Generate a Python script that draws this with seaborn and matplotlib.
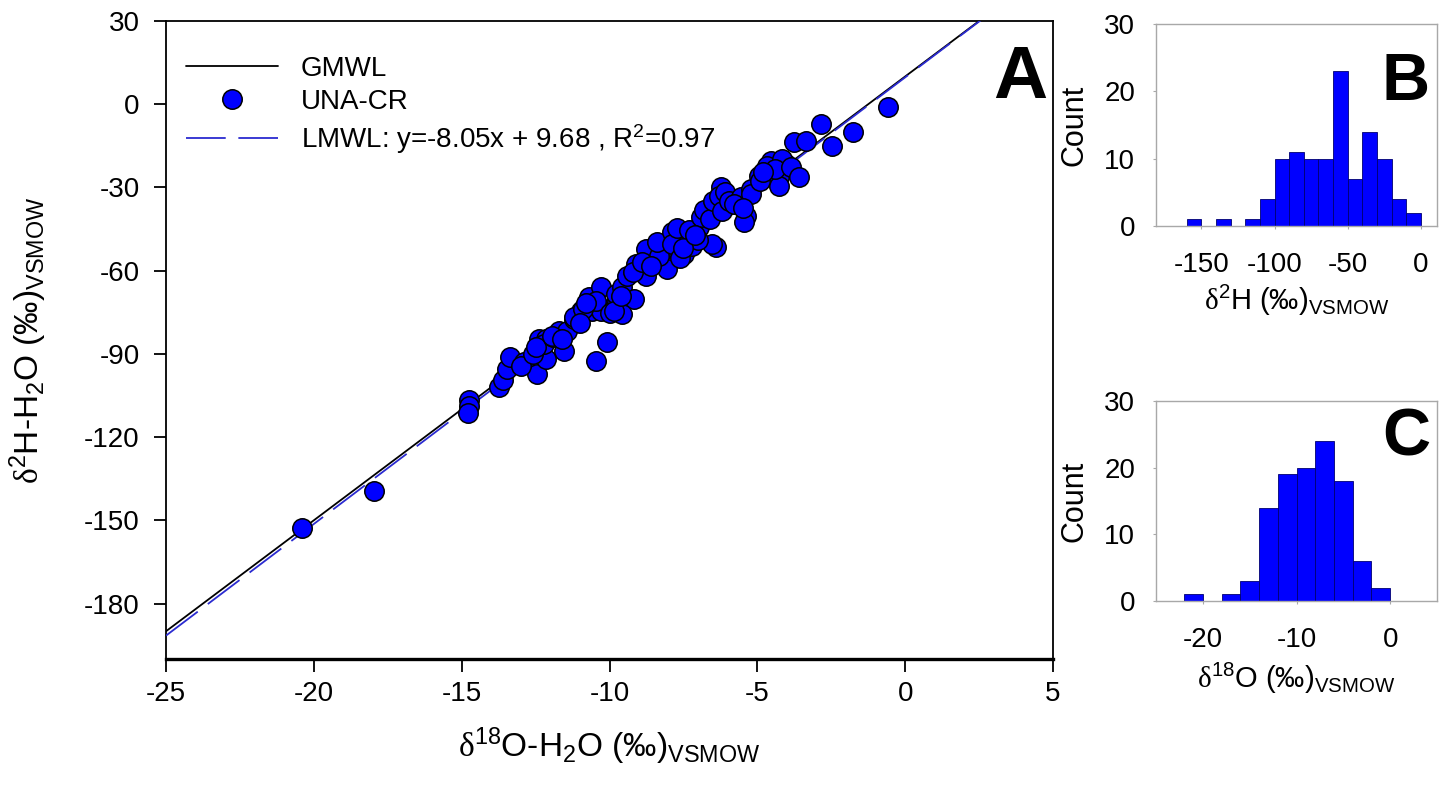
import numpy as np
import pandas as pd
import matplotlib
matplotlib.use('Agg')
import matplotlib.pyplot as plt
import seaborn as sns
from matplotlib.lines import Line2D

# d18O / d2H of the UNA-CR samples (permil, VSMOW)
d18O = [-20.4, -17.95, -14.74, -14.74, -14.8,
        -13.73, -13.6, -13.46, -13.36, -12.88, -12.44, -12.38, -12.15, -12.38, -12.15, -13.0, -12.6, -12.2, -12.5,
        -11.9, -11.7, -11.53, -11.45, -11.2, -10.95, -10.6, -10.45, -10.08, -10.3, -11.2, -10.69, -10.29, -10.45,
        -10.9, -11.95, -11.0, -10.8, -11.6,
        -9.98, -9.75, -9.78, -9.58, -9.17, -9.58, -9.85, -9.1, -8.77, -8.56, -8.23, -8.06, -8.77, -8.33, -9.4,
        -9.2, -8.9, -8.6, -8.4, -9.6,
        -7.89, -7.48, -7.42, -6.98, -6.64, -6.07, -6.4, -6.54, -6.24, -7.9, -7.7, -7.6, -7.3, -7.2, -7.0, -6.9,
        -6.8, -6.6, -6.5, -6.3, -6.2, -6.1, -7.5, -7.1,
        -5.97, -5.56, -5.39, -5.46, -5.22, -4.95, -4.55, -4.28, -4.28, -4.04, -4.68, -4.17, -5.22, -4.9, -5.8,
        -5.5, -4.4, -4.8,
        -3.85, -3.6, -3.77, -3.37, -2.49, -2.83,
        -1.75, -0.57]
d2H = [-152.6, -139.3, -106.5, -108.8, -111.2,
       -101.8, -99.5, -95.4, -91.0, -92.8, -97.2, -89.2, -92.0, -84.6, -84.6, -94.5, -90.0, -86.5, -87.5,
       -84.0, -81.7, -88.9, -81.7, -77.3, -74.4, -74.7, -92.5, -85.6, -74.7, -76.6, -69.4, -65.8, -71.0,
       -73.8, -83.5, -79.0, -71.5, -84.5,
       -75.4, -71.3, -68.3, -65.8, -70.1, -75.5, -74.4, -57.5, -61.9, -55.0, -52.9, -59.3, -52.1, -54.6, -62.0,
       -60.5, -57.0, -58.5, -49.5, -69.0,
       -46.0, -53.9, -48.5, -44.2, -37.7, -36.6, -51.4, -50.3, -29.8, -50.5, -44.5, -55.5, -45.5, -51.0, -49.0,
       -40.5, -38.0, -41.5, -35.0, -33.0, -38.5, -31.5, -52.0, -47.0,
       -34.8, -33.4, -40.2, -42.4, -30.5, -25.8, -20.4, -26.2, -29.4, -21.5, -22.2, -19.7, -32.2, -27.5, -36.0,
       -37.5, -23.5, -24.5,
       -22.5, -26.2, -13.6, -13.2, -15.0, -7.1,
       -10.0, -1.0]

# water lines
gmwl_slope, gmwl_icpt = 8.0, 10.0
lmwl_slope, lmwl_icpt = 8.05, 9.68
line_x = np.array([-25.0, 5.0])

# histogram B (d2H, 10 permil bins from -160 to 0)
h_bin_mid = [-155, -145, -135, -125, -115, -105, -95, -85, -75, -65, -55, -45, -35, -25, -15, -5]
h_counts = [1, 0, 1, 0, 1, 4, 10, 11, 10, 10, 23, 7, 14, 10, 4, 2]
# histogram C (d18O, 2 permil bins from -22 to 0)
o_bin_mid = [-21, -19, -17, -15, -13, -11, -9, -7, -5, -3, -1]
o_counts = [1, 0, 1, 3, 14, 19, 20, 24, 18, 6, 2]

sns.set_style('ticks')
plt.rcParams['font.family'] = ['Liberation Sans', 'DejaVu Sans']
plt.rcParams['mathtext.fontset'] = 'custom'
plt.rcParams['mathtext.rm'] = 'Liberation Sans'
plt.rcParams['mathtext.it'] = 'Liberation Sans:italic'
plt.rcParams['mathtext.bf'] = 'Liberation Sans:bold'
plt.rcParams['mathtext.sf'] = 'Liberation Serif'
plt.rcParams['axes.unicode_minus'] = False
for k in ['text.color', 'axes.labelcolor', 'xtick.color', 'ytick.color']:
    plt.rcParams[k] = 'black'

blue = '#0000ff'
lblue = '#2b2bd0'

fig = plt.figure(figsize=(14.45, 7.93), dpi=100)
ax = fig.add_axes([0.1149, 0.169, 0.6138, 0.8045])
axb = fig.add_axes([0.800, 0.715, 0.1945, 0.2547])
axc = fig.add_axes([0.800, 0.2421, 0.1945, 0.2522])

# --- A: dual isotope plot
sns.lineplot(x=line_x, y=gmwl_slope * line_x + gmwl_icpt, ax=ax, color='black', lw=1.3, zorder=2)
sns.lineplot(x=line_x, y=lmwl_slope * line_x + lmwl_icpt, ax=ax, color=lblue, lw=1.3, zorder=3)
ax.lines[-1].set_dashes([22, 7])
sns.scatterplot(x=d18O, y=d2H, ax=ax, s=196, color=blue, edgecolor='black', linewidth=1.1, zorder=4)

ax.set_xlim(-25, 5)
ax.set_ylim(-200, 30)
ax.set_xticks(np.arange(-25, 6, 5))
ax.set_yticks(np.arange(-180, 31, 30))
ax.tick_params(direction='out', length=9, width=1.3, labelsize=20)
ax.tick_params(axis='x', pad=7)
ax.tick_params(axis='y', pad=10)
for sp in ax.spines.values():
    sp.set_color('black')
    sp.set_linewidth(1.3)
ax.spines['bottom'].set_linewidth(2.4)
ax.set_xlabel(r'$\mathsf{\delta}^{18}$O-H$_2$O (‰)$_{\mathrm{VSMOW}}$', fontsize=24)
ax.set_ylabel(r'$\mathsf{\delta}^{2}$H-H$_2$O (‰)$_{\mathrm{VSMOW}}$', fontsize=24)
ax.xaxis.set_label_coords(0.5, -0.105)
ax.yaxis.set_label_coords(-0.132, 0.5)

handles = [Line2D([], [], color='black', lw=1.3),
           Line2D([], [], ls='none', marker='o', ms=14, mfc=blue, mec='black', mew=1.1),
           Line2D([], [], color=lblue, lw=1.3, dashes=[22, 7])]
labels = ['GMWL', 'UNA-CR', r'LMWL: y=-8.05x + 9.68 , R$^{\mathrm{2}}$=0.97']
ax.legend(handles, labels, loc='upper left', frameon=False, fontsize=20, handlelength=3.3,
          labelspacing=0.25, handletextpad=0.83, borderpad=0, borderaxespad=0,
          bbox_to_anchor=(0.0225, 0.945))
ax.text(0.993, 0.879, 'A', transform=ax.transAxes, ha='right', va='baseline',
        fontsize=54, fontweight='bold')

# --- B and C: histograms
for a, mids, counts, width, rng, letter in [
        (axb, h_bin_mid, h_counts, 10, (-160, 0), 'B'),
        (axc, o_bin_mid, o_counts, 2, (-22, 0), 'C')]:
    hist_df = pd.DataFrame({'value': mids, 'count': counts})
    sns.histplot(data=hist_df, x='value', weights='count', binwidth=width, binrange=rng, ax=a,
                 color=blue, alpha=1, edgecolor='#000070', linewidth=0.6)
    a.set_ylim(0, 30)
    a.set_yticks([0, 10, 20, 30])
    a.tick_params(length=2, color='#a8a8a8', labelsize=20, pad=13)
    a.tick_params(axis='x', pad=17)
    for sp in a.spines.values():
        sp.set_color('#a8a8a8')
        sp.set_linewidth(1.0)
    a.set_ylabel('Count', fontsize=22)
    a.yaxis.set_label_coords(-0.235, 0.5)
    a.text(0.975, 0.624 if letter == 'B' else 0.73, letter, transform=a.transAxes,
           ha='right', va='baseline', fontsize=48, fontweight='bold')

axb.set_xlim(-181, 11)
axb.set_xticks([-150, -100, -50, 0])
axb.set_xlabel(r'$\mathsf{\delta}^{2}$H (‰)$_{\mathrm{VSMOW}}$', fontsize=21, labelpad=3)
axc.set_xlim(-25, 5)
axc.set_xticks([-20, -10, 0])
axc.set_xlabel(r'$\mathsf{\delta}^{18}$O (‰)$_{\mathrm{VSMOW}}$', fontsize=21, labelpad=5)

fig.savefig('out.png', dpi=100)
